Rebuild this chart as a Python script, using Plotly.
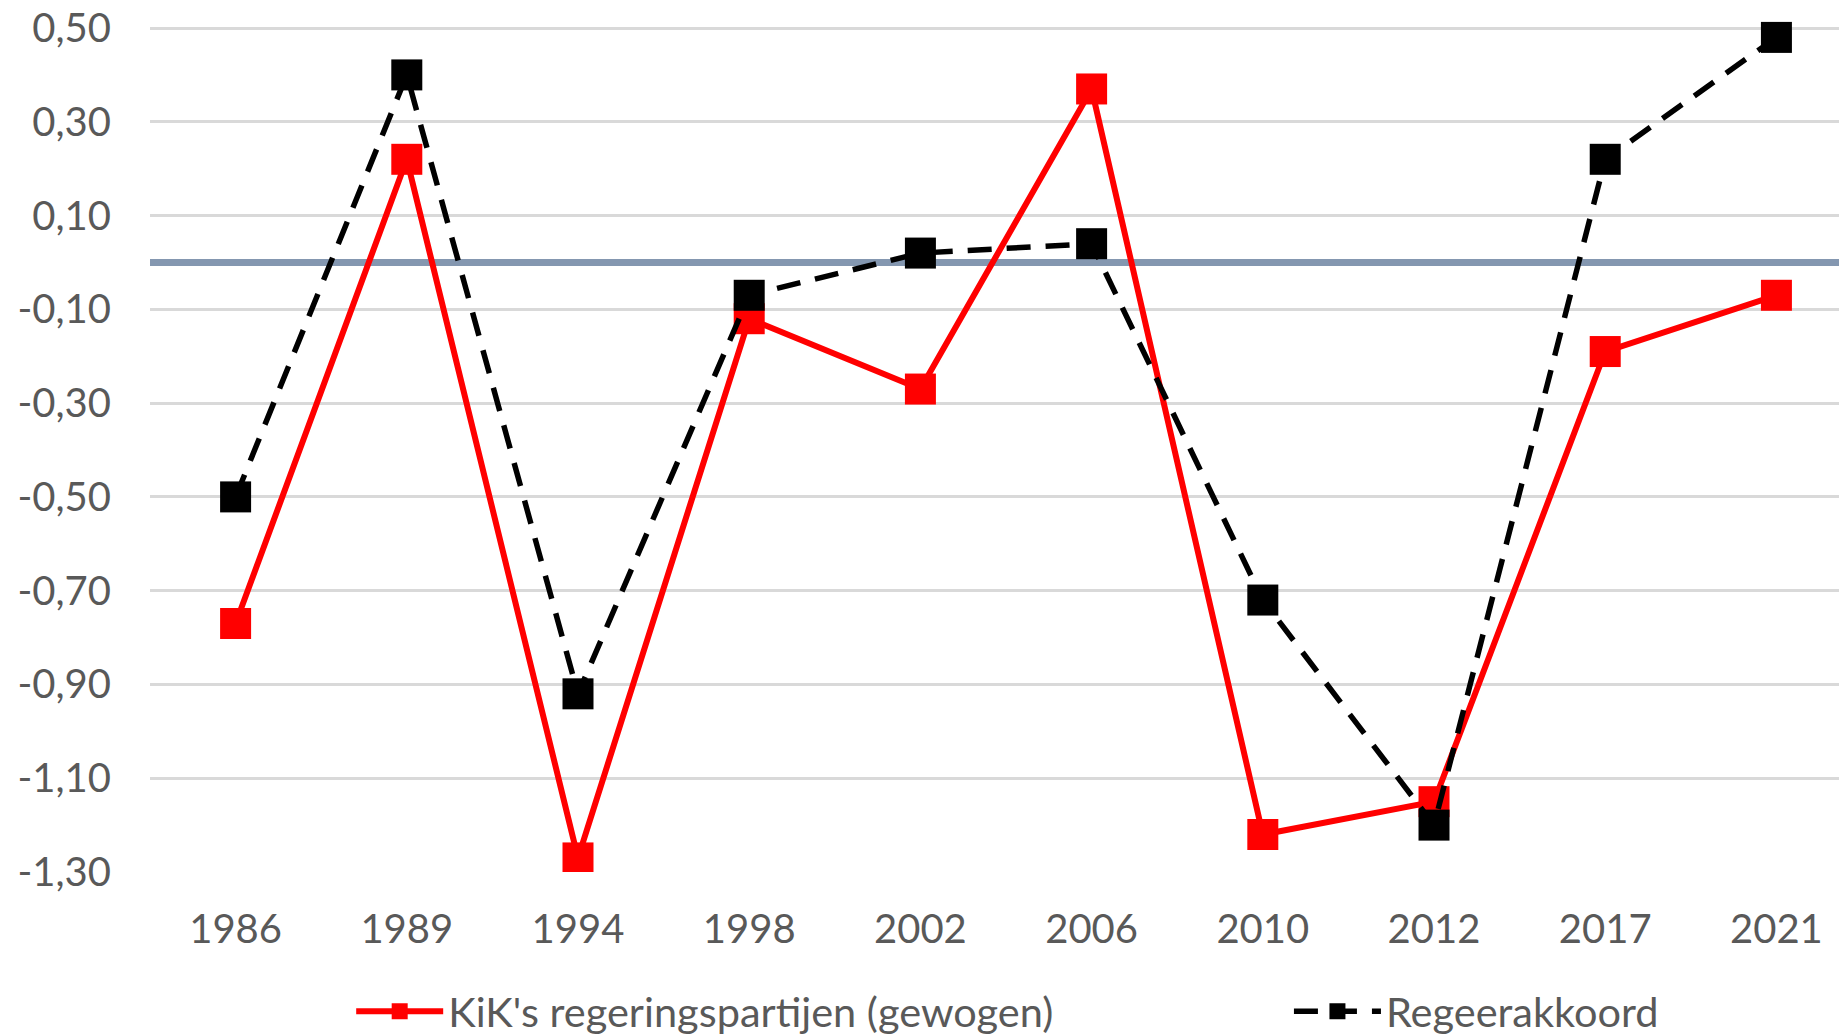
import plotly.graph_objects as go

years = ["1986", "1989", "1994", "1998", "2002", "2006", "2010", "2012", "2017", "2021"]
kik_values = [-0.77, 0.22, -1.27, -0.12, -0.27, 0.37, -1.22, -1.15, -0.19, -0.07]
akkoord_values = [-0.50, 0.40, -0.92, -0.07, 0.02, 0.04, -0.72, -1.20, 0.22, 0.48]
y_tickvals = [0.5, 0.3, 0.1, -0.1, -0.3, -0.5, -0.7, -0.9, -1.1, -1.3]
y_ticktext = ["0,50", "0,30", "0,10", "-0,10", "-0,30", "-0,50", "-0,70", "-0,90", "-1,10", "-1,30"]
series_names = ["KiK's regeringspartijen (gewogen)", "Regeerakkoord"]

FONT = "Lato"
GREY = "#595959"
FS = 40

fig = go.Figure()
fig.add_trace(go.Scatter(
    x=years, y=kik_values, name=series_names[0], mode="lines+markers",
    line=dict(color="#FF0000", width=6),
    marker=dict(symbol="square", size=31, color="#FF0000"),
    legend="legend",
))
fig.add_trace(go.Scatter(
    x=years, y=akkoord_values, name=series_names[1], mode="lines+markers",
    line=dict(color="#000000", width=5.5, dash="24px,15px"),
    marker=dict(symbol="square", size=31, color="#000000"),
    legend="legend2",
))

legend_common = dict(
    orientation="h", xref="paper", xanchor="left",
    yref="paper", yanchor="top", y=-0.1242,
    font=dict(family=FONT, size=41.5, color=GREY),
    itemwidth=87, bgcolor="rgba(0,0,0,0)",
)

fig.update_layout(
    width=1847, height=1034,
    margin=dict(l=142, r=0, t=12, b=170, autoexpand=False),
    paper_bgcolor="white", plot_bgcolor="white",
    font=dict(family=FONT, size=FS, color=GREY),
    showlegend=True,
    legend=dict(x=0.118, **legend_common),
    legend2=dict(x=0.668, **legend_common),
    xaxis=dict(
        type="category", range=[-0.5, 9.459], automargin=False,
        showgrid=False, showline=False, zeroline=False,
        ticks="", ticklabelstandoff=30, ticklabeloverflow="allow",
        tickfont=dict(family=FONT, size=FS, color=GREY),
    ),
    yaxis=dict(
        range=[-1.3, 0.5171], tickvals=y_tickvals, ticktext=y_ticktext,
        automargin=False, ticklabeloverflow="allow",
        showgrid=True, gridcolor="#D9D9D9", gridwidth=3,
        zeroline=True, zerolinecolor="#8497B0", zerolinewidth=7,
        showline=False, ticks="", ticklabelstandoff=38,
        tickfont=dict(family=FONT, size=FS, color=GREY),
    ),
)

fig.write_html("out.html")
